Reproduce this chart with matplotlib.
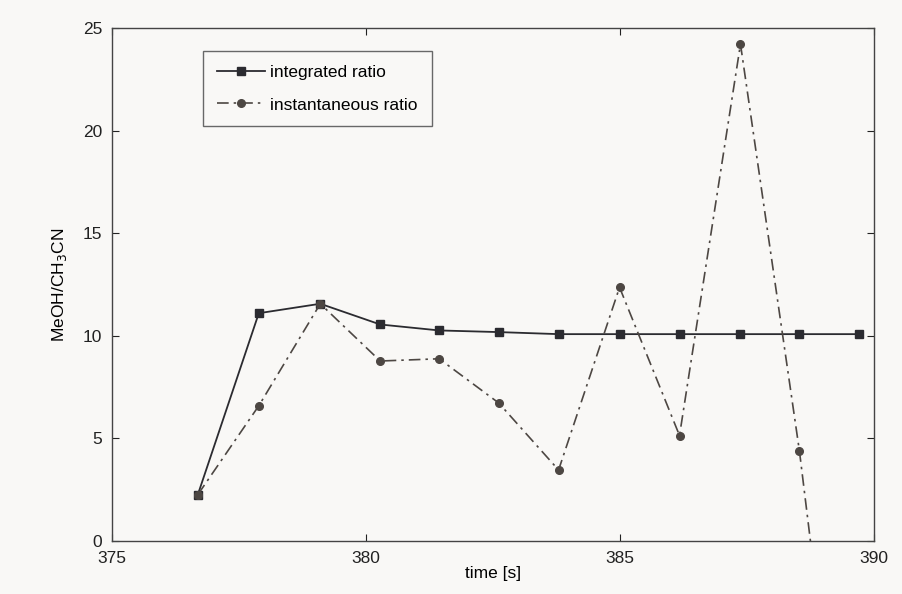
import matplotlib.pyplot as plt

# time points [s]
time_s = [376.69, 377.89, 379.10, 380.28, 381.44, 382.61, 383.79,
          384.99, 386.17, 387.37, 388.53, 389.70]
integrated_ratio = [2.26, 11.10, 11.56, 10.55, 10.26, 10.18, 10.08,
                    10.08, 10.08, 10.08, 10.08, 10.08]
instantaneous_ratio = [2.26, 6.59, 11.56, 8.77, 8.88, 6.73, 3.46,
                       12.36, 5.14, 24.21, 4.39, -19.3]

x_ticks = [375, 380, 385, 390]
y_ticks = [0, 5, 10, 15, 20, 25]

BG = "#f9f8f6"
FS = 12.5

plt.rcParams["font.family"] = ["Liberation Sans", "DejaVu Sans"]

fig = plt.figure(figsize=(9.03, 5.94), dpi=100, facecolor=BG)
ax = fig.add_axes([0.124, 0.0892, 0.844, 0.8638], facecolor=BG)

ax.plot(time_s, integrated_ratio, color="#2b2b30", linewidth=1.3,
        marker="s", markersize=6, label="integrated ratio")
ax.plot(time_s, instantaneous_ratio, color="#4d4743", linewidth=1.2,
        linestyle=(0, (7, 3, 1.5, 3)), marker="o", markersize=5.5,
        label="instantaneous ratio")

ax.set_xlim(375, 390)
ax.set_ylim(0, 25)
ax.set_xticks(x_ticks)
ax.set_yticks(y_ticks)
ax.tick_params(direction="in", top=True, right=True, length=5,
               labelsize=FS, colors="#222222")
ax.tick_params(axis="x", pad=7)
ax.tick_params(axis="y", pad=7)
for spine in ax.spines.values():
    spine.set_color("#444444")
    spine.set_linewidth(1.0)

ax.set_xlabel("time [s]", fontsize=FS, labelpad=0)
ax.set_ylabel("MeOH/CH$_3$CN", fontsize=FS, labelpad=10)

leg = ax.legend(loc="upper left", bbox_to_anchor=(0.119, 0.955),
                fontsize=FS, frameon=True, fancybox=False,
                handlelength=2.8, borderpad=0.8, labelspacing=1.0,
                handletextpad=0.3, borderaxespad=0)
leg.get_frame().set_edgecolor("#444444")
leg.get_frame().set_facecolor(BG)
leg.get_frame().set_linewidth(1.0)

fig.savefig("out.png", dpi=100, facecolor=BG)
